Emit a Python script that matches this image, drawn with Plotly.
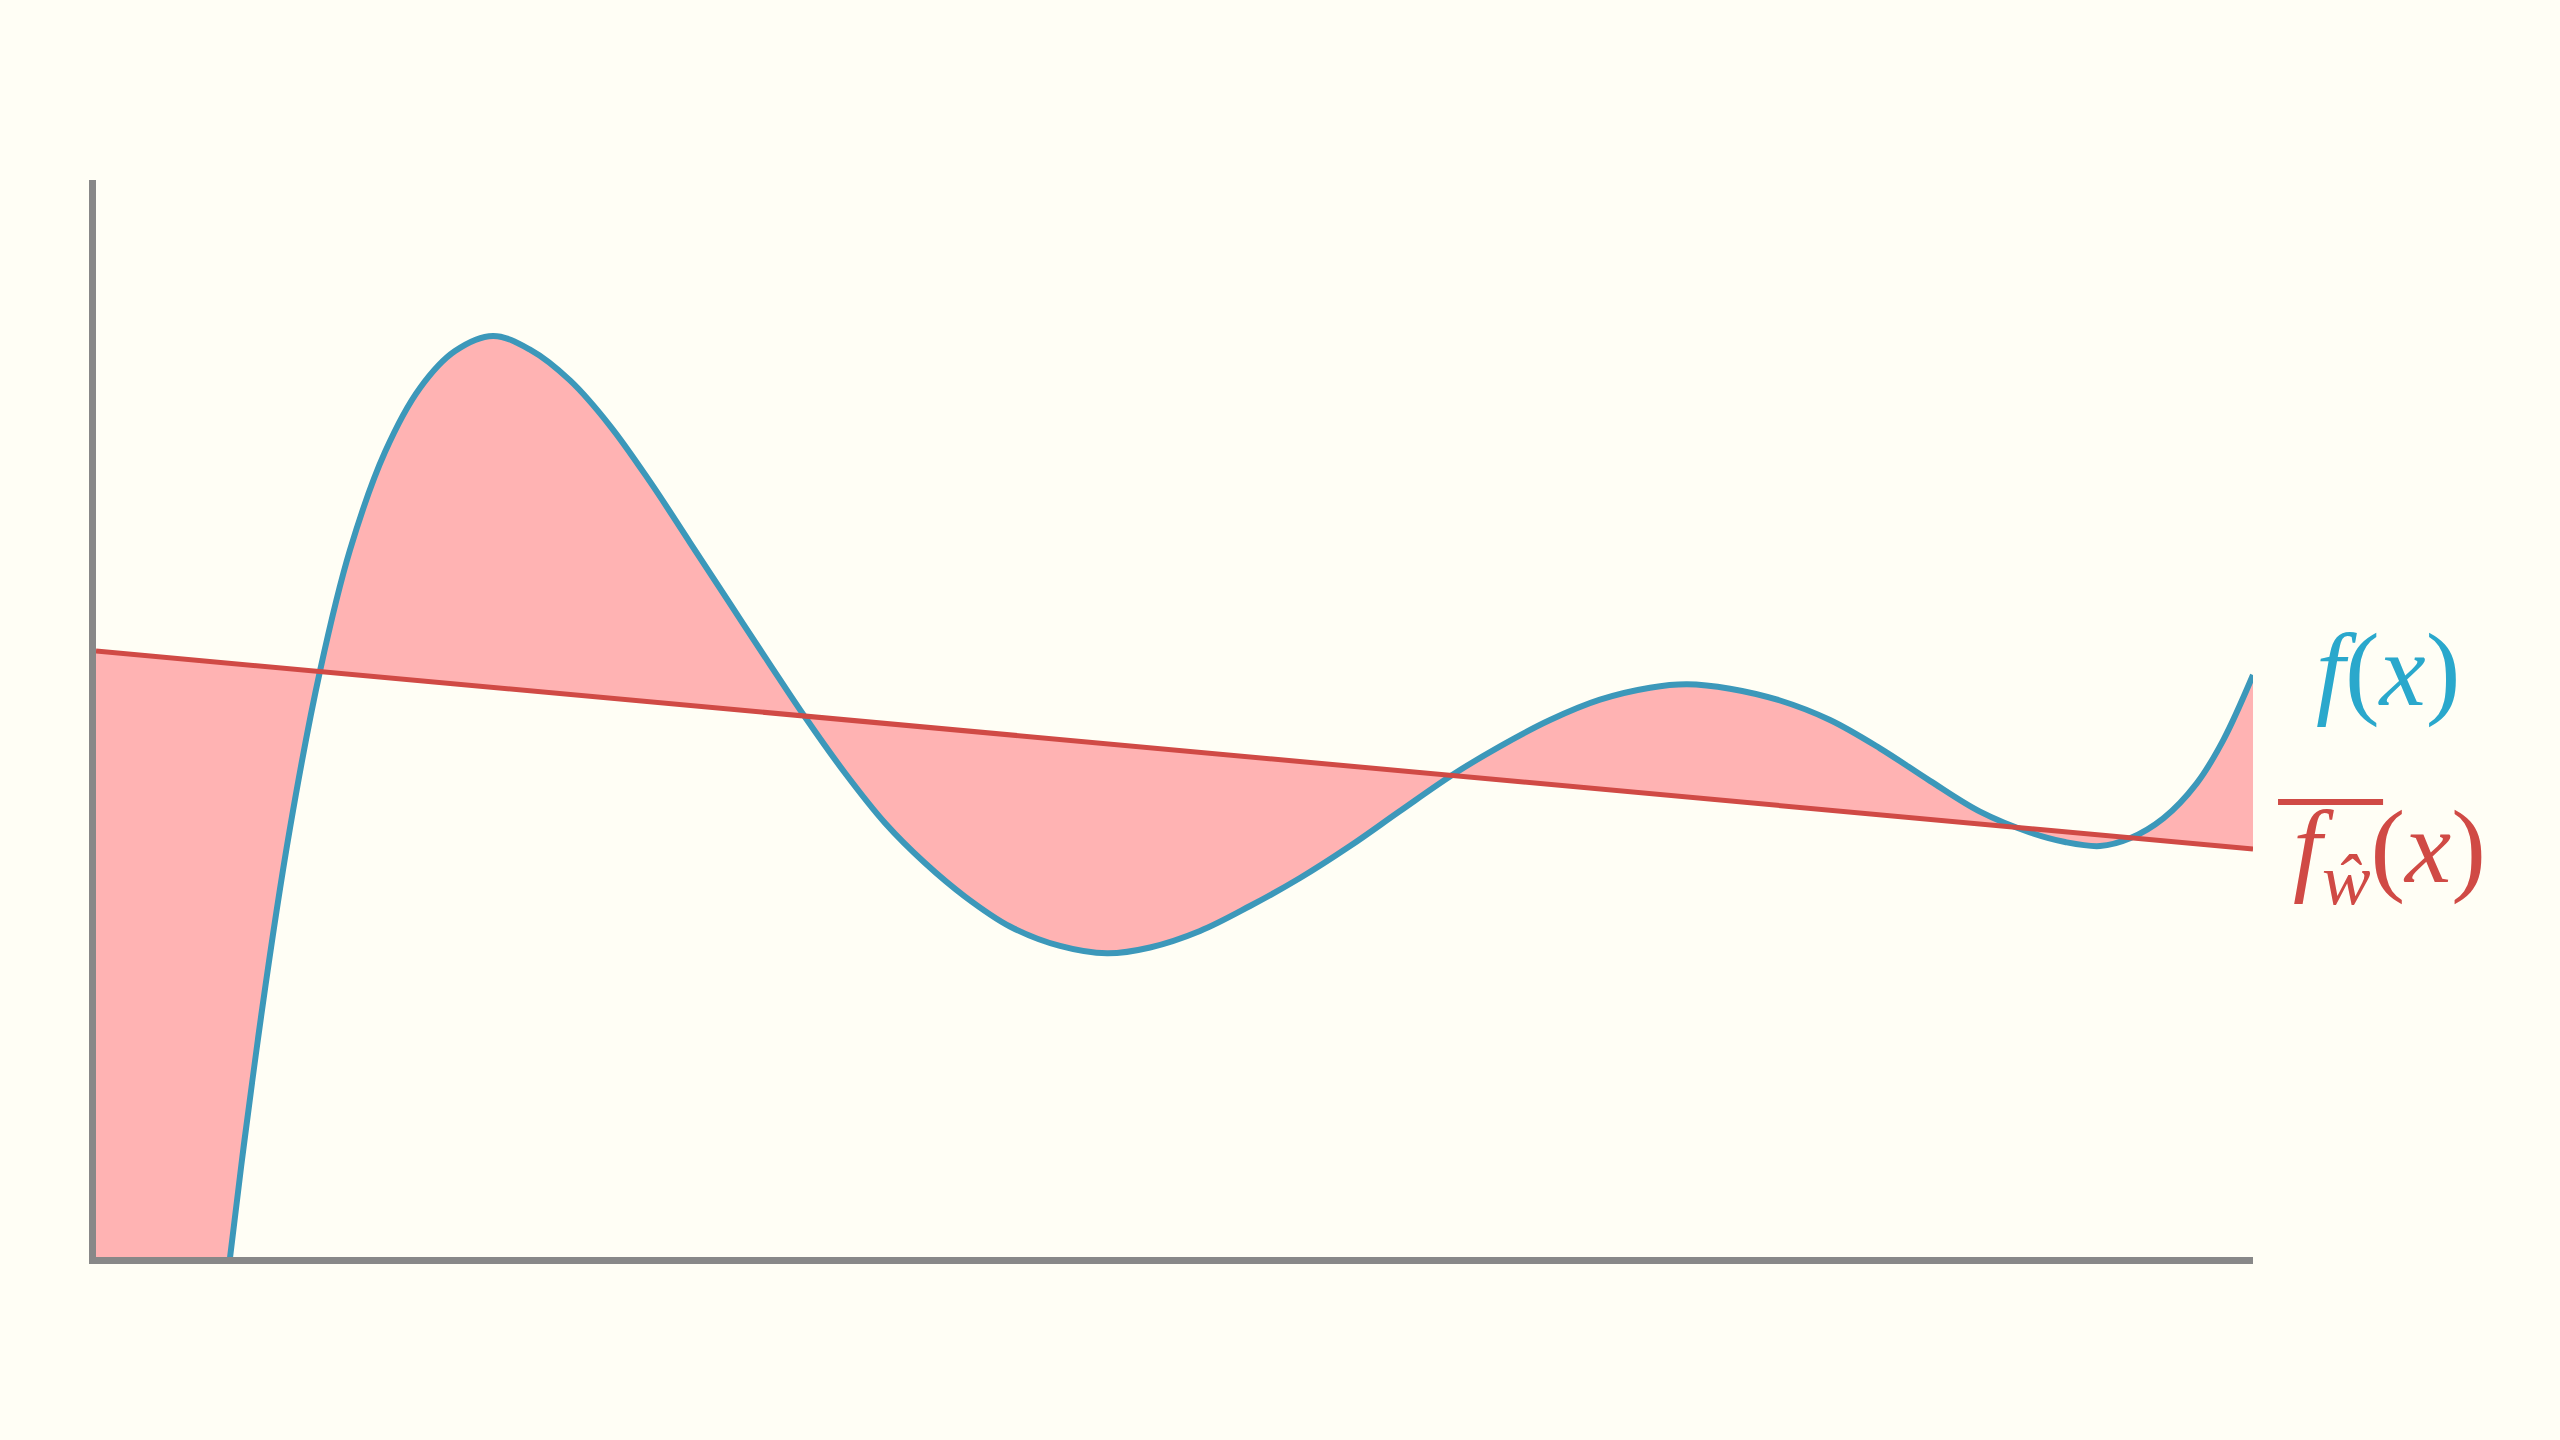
import plotly.graph_objects as go

# Curve f(x) (values below 0 fall outside the visible area)
curve_x = [0.000, 0.2503, 0.4822, 0.6212, 0.7696, 0.8994, 1.0385, 1.1776, 1.3398, 1.5021,
           1.6644, 1.8405, 2.0121, 2.1975, 2.3830, 2.5684, 2.7538, 2.9393, 3.1247, 3.2870,
           3.4724, 3.6579, 3.8433, 4.0287, 4.2374, 4.4692, 4.6871, 4.8865, 5.1182, 5.3500,
           5.5818, 5.8136, 6.0454, 6.2912, 6.5090, 6.7409, 6.9726, 7.2045, 7.3760, 7.5754,
           7.8072, 8.0390, 8.2707, 8.5026, 8.7344, 8.9662, 9.1284, 9.2907, 9.4298, 9.5841,
           9.7390, 9.8623, 10.000]
curve_y = [-14.095, -7.827, -2.656, -0.009, 2.293, 3.983, 5.441, 6.565, 7.474, 8.069,
           8.412, 8.552, 8.425, 8.139, 7.718, 7.199, 6.634, 6.066, 5.501, 5.014,
           4.494, 4.030, 3.658, 3.347, 3.069, 2.888, 2.820, 2.874, 3.027, 3.259,
           3.519, 3.816, 4.141, 4.480, 4.742, 4.986, 5.175, 5.286, 5.318, 5.277,
           5.167, 4.986, 4.723, 4.421, 4.135, 3.942, 3.853, 3.816, 3.888, 4.073,
           4.398, 4.800, 5.404]

# Linear fit f_w(x)
line_x = [0.0, 10.0]
line_y = [5.627, 3.788]

label_f = "<i>f</i>(<i>x</i>)"
label_fw = "<i>f</i><sub><i>ŵ</i></sub>(<i>x</i>)"

BG = "#FFFEF5"
BLUE = "#3C98BA"
BLUE_TXT = "#2AA8CC"
RED = "#D04A45"
PINK = "#FFB3B3"
AXIS = "#888888"
SMOOTH = 1.0

fig = go.Figure()
# fill between line and curve
fig.add_trace(go.Scatter(x=line_x, y=line_y, mode="lines",
                         line=dict(width=0, color=PINK), hoverinfo="skip", showlegend=False))
fig.add_trace(go.Scatter(x=curve_x, y=curve_y, mode="lines", fill="tonexty",
                         fillcolor=PINK, line=dict(width=0, color=PINK, shape="spline", smoothing=SMOOTH),
                         hoverinfo="skip", showlegend=False))
# curve
fig.add_trace(go.Scatter(x=curve_x, y=curve_y, mode="lines",
                         line=dict(width=6, color=BLUE, shape="spline", smoothing=SMOOTH),
                         hoverinfo="skip", showlegend=False))
# linear fit
fig.add_trace(go.Scatter(x=line_x, y=line_y, mode="lines",
                         line=dict(width=5, color=RED),
                         hoverinfo="skip", showlegend=False))

axis_common = dict(showgrid=False, zeroline=False, showticklabels=False, ticks="",
                   showline=True, linecolor=AXIS, linewidth=7, fixedrange=True)
fig.update_xaxes(range=[0, 10], **axis_common)
fig.update_yaxes(range=[0, 10], **axis_common)

fig.add_annotation(x=1.0626, y=0.545, xref="paper", yref="paper", text=label_f,
                   showarrow=False, xanchor="center", yanchor="middle",
                   font=dict(family="Liberation Serif", size=104, color=BLUE_TXT))
fig.add_annotation(x=1.0635, y=0.3733, xref="paper", yref="paper", text=label_fw,
                   showarrow=False, xanchor="center", yanchor="middle",
                   font=dict(family="Liberation Serif", size=104, color=RED))
fig.add_shape(type="line", xref="paper", yref="paper", x0=1.0116, x1=1.0603,
              y0=0.4225, y1=0.4225, line=dict(color=RED, width=6))

fig.update_layout(width=2560, height=1440, paper_bgcolor=BG, plot_bgcolor=BG,
                  margin=dict(l=96, r=307, t=180, b=183), showlegend=False,
                  hovermode=False)

fig.write_html("out.html", config={"displayModeBar": False},
               post_script="document.body.style.margin='0';"
                           "document.body.style.background='#FFFEF5';")
